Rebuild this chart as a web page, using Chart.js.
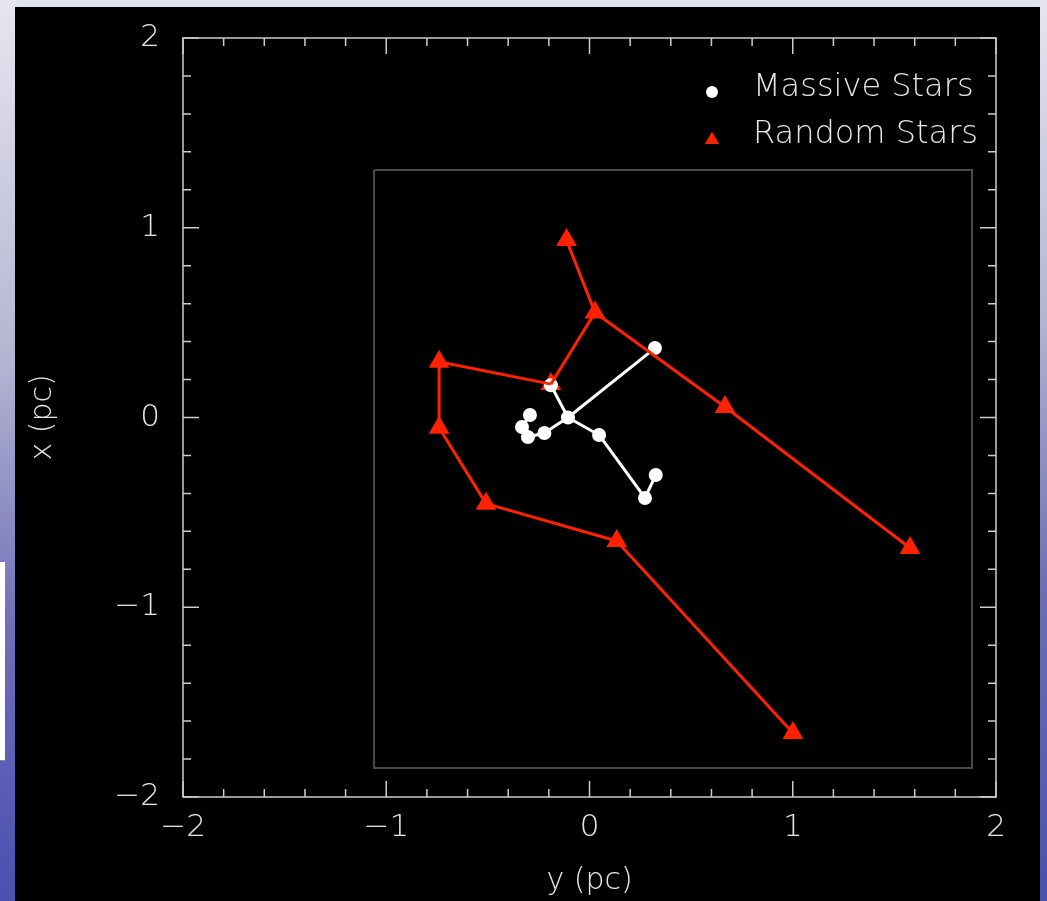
<!DOCTYPE html>
<html>
<head>
<meta charset="utf-8">
<script src="https://cdn.jsdelivr.net/npm/chart.js@4.4.1/dist/chart.umd.min.js"></script>
<style>
  html, body { margin: 0; padding: 0; width: 1047px; height: 901px; overflow: hidden; background: #000; }
  #top { position: absolute; left: 0; top: 0; width: 1047px; height: 7px; background: #e3e3ee; }
  #leftBar { position: absolute; left: 0; top: 0; width: 15px; height: 901px;
    background: linear-gradient(#e6e6f0, #b4b4d2 40%, #6e6eb8 70%, #4a50b0); }
  #rightBar { position: absolute; left: 1040px; top: 0; width: 7px; height: 901px;
    background: linear-gradient(#e6e6f0, #b4b4d2 35%, #6e6eb8 65%, #4a50b0); }
  #note { position: absolute; left: 0; top: 562px; width: 5px; height: 198px; background: #fff;
    border-bottom: 1px solid #8888aa; }
  #wrap { position: absolute; left: 15px; top: 7px; width: 1025px; height: 894px; background: #000; }
</style>
</head>
<body>
<div id="top"></div>
<div id="leftBar"></div>
<div id="rightBar"></div>
<div id="note"></div>
<div id="wrap"><canvas id="graf" width="1025" height="894"></canvas></div>
<script>
// datos (horizontal = y (pc), vertical = x (pc))
const massiveX = [-0.106, 0.322, -0.19, 0.047, 0.273, 0.326, -0.222, -0.303, -0.332, -0.293];
const massiveY = [0.0, 0.366, 0.17, -0.092, -0.424, -0.303, -0.082, -0.103, -0.05, 0.013];
const massiveEdges = [[0, 1], [0, 2], [0, 3], [3, 4], [4, 5], [0, 6], [6, 7], [7, 8], [8, 9]];

const randomX = [-0.113, 0.027, -0.19, -0.74, -0.74, -0.509, 0.134, 1.001, 0.667, 1.577];
const randomY = [0.935, 0.553, 0.176, 0.294, -0.054, -0.454, -0.651, -1.663, 0.055, -0.688];
const randomEdges = [[0, 1], [1, 2], [2, 3], [3, 4], [4, 5], [5, 6], [6, 7], [1, 8], [8, 9]];

// recuadro gris interior
const boxX = [-1.06, 1.882, 1.882, -1.06, -1.06];
const boxY = [1.304, 1.304, -1.847, -1.847, 1.304];

const xTickLabels = ['\u22122', '\u22121', '0', '1', '2'];
const yTickLabels = ['\u22122', '\u22121', '0', '1', '2'];
const legendLabels = ['Massive Stars', 'Random Stars'];

const FONT = "'DejaVu Sans', sans-serif";
const TEXT = '#e6e6e6';
const FRAME = '#cccccc';
const RED = '#ff2200';
const WHITE = '#ffffff';

const toPts = (xs, ys) => xs.map((x, i) => ({ x: x, y: ys[i] }));
const massivePts = toPts(massiveX, massiveY);
const randomPts = toPts(randomX, randomY);

const datasets = [];
// lineas rojas (arriba de todo)
randomEdges.forEach(e => {
  datasets.push({ data: [randomPts[e[0]], randomPts[e[1]]], showLine: true, borderColor: RED,
    borderWidth: 3, pointRadius: 0, order: 0 });
});
// puntos blancos
datasets.push({ data: massivePts, showLine: false, pointStyle: 'circle', pointRadius: 7,
  backgroundColor: WHITE, borderColor: WHITE, borderWidth: 0, order: 1 });
// lineas blancas
massiveEdges.forEach(e => {
  datasets.push({ data: [massivePts[e[0]], massivePts[e[1]]], showLine: true, borderColor: WHITE,
    borderWidth: 3, pointRadius: 0, order: 2 });
});
// triangulos rojos
datasets.push({ data: randomPts, showLine: false, pointStyle: 'triangle', pointRadius: 12,
  backgroundColor: RED, borderColor: RED, borderWidth: 0, order: 3 });
// recuadro
datasets.push({ data: toPts(boxX, boxY), showLine: true, borderColor: '#4a4a4a', borderWidth: 2,
  pointRadius: 0, order: 4 });

// marco con ticks hacia dentro en los 4 lados
const marco = {
  id: 'marco',
  afterDatasetsDraw(chart) {
    const { ctx, chartArea: a, scales } = chart;
    ctx.save();
    ctx.strokeStyle = FRAME;
    ctx.lineWidth = 1.5;
    ctx.strokeRect(a.left, a.top, a.right - a.left, a.bottom - a.top);
    ctx.beginPath();
    for (let k = -10; k <= 10; k++) {
      const v = k / 5;
      const len = k % 5 === 0 ? 16 : 8;
      const px = scales.x.getPixelForValue(v);
      const py = scales.y.getPixelForValue(v);
      ctx.moveTo(px, a.bottom); ctx.lineTo(px, a.bottom - len);
      ctx.moveTo(px, a.top); ctx.lineTo(px, a.top + len);
      ctx.moveTo(a.left, py); ctx.lineTo(a.left + len, py);
      ctx.moveTo(a.right, py); ctx.lineTo(a.right - len, py);
    }
    ctx.stroke();

    // leyenda
    const lx = a.right - 284, ly = a.top + 52;
    ctx.fillStyle = WHITE;
    ctx.beginPath(); ctx.arc(lx, ly + 2, 6, 0, Math.PI * 2); ctx.fill();
    ctx.fillStyle = RED;
    Chart.helpers.drawPoint(ctx, { pointStyle: 'triangle', radius: 8, borderWidth: 0 }, lx, ly + 50);
    ctx.fill();
    ctx.fillStyle = TEXT;
    ctx.font = '200 32px ' + FONT;
    ctx.textBaseline = 'middle';
    ctx.textAlign = 'left';
    ctx.fillText(legendLabels[0], lx + 41, ly - 2);
    ctx.fillText(legendLabels[1], lx + 41, ly + 45);
    ctx.restore();
  }
};

new Chart(document.getElementById('graf'), {
  type: 'scatter',
  data: { datasets: datasets },
  options: {
    responsive: false,
    animation: false,
    layout: { padding: { top: 31, right: 44, left: 0, bottom: 0 } },
    plugins: { legend: { display: false }, tooltip: { enabled: false } },
    scales: {
      x: {
        min: -2, max: 2,
        afterFit: s => { s.height = 104; s.paddingLeft = 0; s.paddingRight = 0; },
        grid: { display: false, drawTicks: false },
        border: { display: false },
        ticks: {
          stepSize: 1, padding: 12, color: TEXT, maxRotation: 0,
          font: { family: FONT, size: 31, weight: '200' },
          callback: function(value) { return xTickLabels[Math.round(value) + 2]; }
        },
        title: { display: true, text: 'y (pc)', color: TEXT, padding: { top: 0, bottom: 2 },
          font: { family: FONT, size: 30, weight: '200' } }
      },
      y: {
        min: -2, max: 2,
        afterFit: s => { s.width = 168; s.paddingTop = 0; s.paddingBottom = 0; },
        grid: { display: false, drawTicks: false },
        border: { display: false },
        ticks: {
          stepSize: 1, padding: 23, color: TEXT,
          font: { family: FONT, size: 31, weight: '200' },
          callback: function(value) { return yTickLabels[Math.round(value) + 2]; }
        },
        title: { display: true, text: 'x (pc)', color: TEXT, padding: { top: 10, bottom: 0 },
          font: { family: FONT, size: 30, weight: '200' } }
      }
    }
  },
  plugins: [marco]
});
</script>
</body>
</html>
